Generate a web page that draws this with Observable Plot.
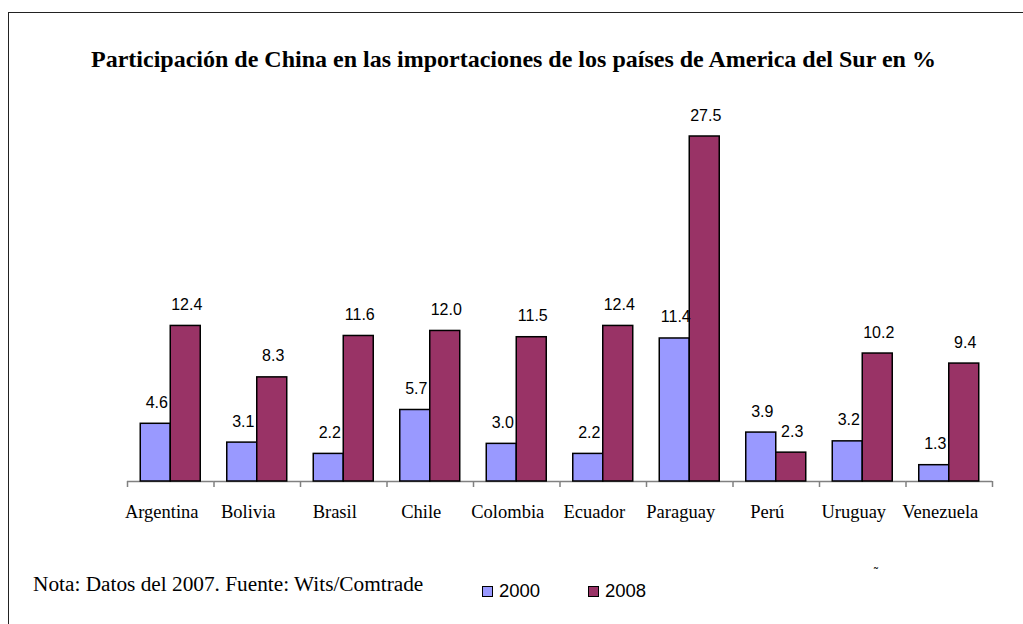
<!DOCTYPE html>
<html>
<head>
<meta charset="utf-8">
<script src="https://cdn.jsdelivr.net/npm/d3@7"></script>
<script src="https://cdn.jsdelivr.net/npm/@observablehq/plot@0.6"></script>
<style>
  html, body { margin: 0; padding: 0; background: #fff; }
  #page { position: relative; width: 1023px; height: 624px; overflow: hidden; background: #fff; }
  #frame { position: absolute; left: 8px; top: 12px; width: 1100px; height: 700px;
           border-top: 1.5px solid #222; border-left: 1.5px solid #222; }
  #title { position: absolute; left: 0; width: 1027px; top: 46px; text-align: center;
           font-family: "Liberation Serif", "Times New Roman", serif; font-weight: bold; font-size: 24px; color: #000; white-space: nowrap; }
  #chart { position: absolute; left: 0; top: 100px; }
  #note { position: absolute; left: 33px; top: 572px; font-family: "Liberation Serif", "Times New Roman", serif; font-size: 21.3px; color: #000; white-space: nowrap; }
  .leg { position: absolute; top: 580px; font-family: "Liberation Sans", Arial, sans-serif; font-size: 18.5px; color: #000; display: flex; align-items: center; }
  .sw { width: 9px; height: 9px; border: 1.5px solid #000; margin-right: 6px; }
  #mark { position: absolute; left: 874px; top: 566px; font-family: "Liberation Sans", sans-serif; font-size: 12px; }
</style>
</head>
<body>
<div id="page">
  <div id="frame"></div>
  <div id="title"></div>
  <div id="chart"></div>
  <div id="note"></div>
  <div id="legend"></div>
  <div id="mark">˜</div>
</div>
<script>
const titleText = "Participación de China en las importaciones de los países de America del Sur en %";
const noteText = "Nota: Datos del 2007. Fuente: Wits/Comtrade";
const countries = ["Argentina","Bolivia","Brasil","Chile","Colombia","Ecuador","Paraguay","Perú","Uruguay","Venezuela"];
const years = ["2000","2008"];
const values2000 = [4.6, 3.1, 2.2, 5.7, 3.0, 2.2, 11.4, 3.9, 3.2, 1.3];
const values2008 = [12.4, 8.3, 11.6, 12.0, 11.5, 12.4, 27.5, 2.3, 10.2, 9.4];
const colors = ["#9999FF", "#993366"];

const data = countries.flatMap((c, i) => [
  {country: c, year: years[0], value: values2000[i]},
  {country: c, year: years[1], value: values2008[i]}
]);

document.getElementById("title").textContent = titleText;
document.getElementById("note").textContent = noteText;

const legendLeft = [482, 588];
const legend = document.getElementById("legend");
years.forEach((y, i) => {
  const d = document.createElement("div");
  d.className = "leg";
  d.style.left = legendLeft[i] + "px";
  const sw = document.createElement("div");
  sw.className = "sw";
  sw.style.background = colors[i];
  d.appendChild(sw);
  d.appendChild(document.createTextNode(y));
  legend.appendChild(d);
});

const outer = 0.442;
const edge = 28.25; // distance from facet edge to centre of outer bar (px)
const axisColor = "#808080";

const chart = Plot.plot({
  width: 1023,
  height: 440,
  marginTop: 36,
  marginBottom: 59,
  marginLeft: 127,
  marginRight: 31,
  fx: {domain: countries, padding: 0, round: false, axis: null},
  x: {domain: years, paddingInner: 0, paddingOuter: outer, round: false, axis: null},
  y: {domain: [0, 27.5], axis: null},
  color: {domain: years, range: colors},
  style: {fontFamily: "'Liberation Serif', 'Times New Roman', serif", fontSize: "18px", color: "#000", background: "transparent", overflow: "visible"},
  marks: [
    Plot.ruleY([0], {stroke: axisColor, strokeWidth: 1.5}),
    Plot.ruleX(countries, {fx: d => d, x: () => years[0], y1: 0, y2: 0, insetBottom: -6, dx: -edge, stroke: axisColor, strokeWidth: 1.5}),
    Plot.ruleX([countries[countries.length - 1]], {fx: d => d, x: () => years[1], y1: 0, y2: 0, insetBottom: -6, dx: edge, stroke: axisColor, strokeWidth: 1.5}),
    Plot.barY(data, {fx: "country", x: "year", y: "value", fill: "year", stroke: "#000", strokeWidth: 1.5}),
    Plot.text(data, {fx: "country", x: "year", y: "value", text: d => d.value.toFixed(1), dy: -16, dx: 1, lineAnchor: "bottom",
      fontFamily: "'Liberation Sans', Arial, sans-serif", fontSize: 16, fill: "#000"}),
    Plot.text(countries, {fx: d => d, text: d => d, frameAnchor: "bottom", dy: 36, dx: -9, lineAnchor: "bottom", fill: "#000", fontSize: 18.5})
  ]
});
document.getElementById("chart").appendChild(chart);
</script>
</body>
</html>
